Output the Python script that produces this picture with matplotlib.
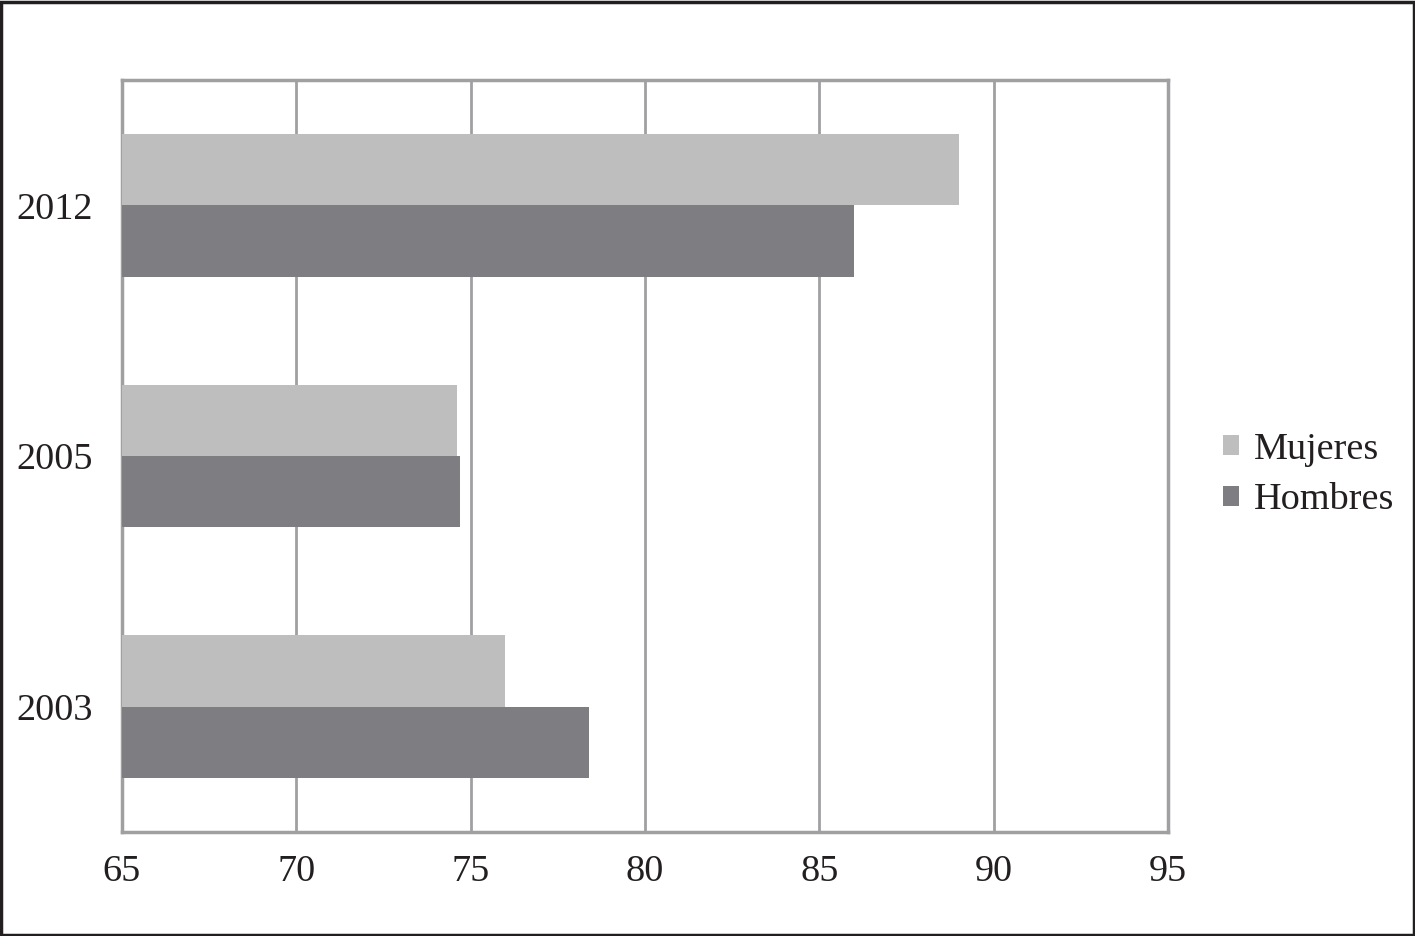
import numpy as np
import matplotlib.pyplot as plt
from matplotlib.patches import Rectangle

years = ['2003', '2005', '2012']
mujeres = [76.0, 74.6, 89.0]
hombres = [78.4, 74.7, 86.0]
xticks = [65, 70, 75, 80, 85, 90, 95]

plt.rcParams['font.family'] = ['Liberation Serif', 'DejaVu Serif']

fig = plt.figure(figsize=(14.15, 9.36), dpi=100)
ax = fig.add_axes([0.0862, 0.1111, 0.7392, 0.8034])

y = np.arange(len(years))
h = 0.284
ax.barh(y + h / 2, mujeres, height=h, left=0, color='#bebebf', label='Mujeres', zorder=3)
ax.barh(y - h / 2, hombres, height=h, left=0, color='#7e7e82', label='Hombres', zorder=3)

ax.set_xlim(65, 95)
ax.set_ylim(-0.5, 2.5)
ax.set_xticks(xticks)
ax.set_yticks(y)
ax.set_yticklabels(years)
ax.tick_params(length=0, labelsize=27.5, colors='#231f20')
ax.tick_params(axis='x', pad=16)
ax.tick_params(axis='y', pad=21)
ax.grid(axis='x', color='#a0a0a2', linewidth=2, zorder=0)
for s in ax.spines.values():
    s.set_color('#a0a0a2')
    s.set_linewidth(2.5)

leg = ax.legend(loc='center left', bbox_to_anchor=(1.02, 0.475), frameon=False,
                fontsize=27.5, handlelength=0.42, handleheight=0.42, handletextpad=0.38,
                labelspacing=0.42, labelcolor='#231f20')

# outer frame
fig.patches.append(Rectangle((0.001, 0.001), 0.998, 0.997, transform=fig.transFigure,
                             fill=False, edgecolor='#231f20', linewidth=2.5))

fig.savefig('out.png', dpi=100)
